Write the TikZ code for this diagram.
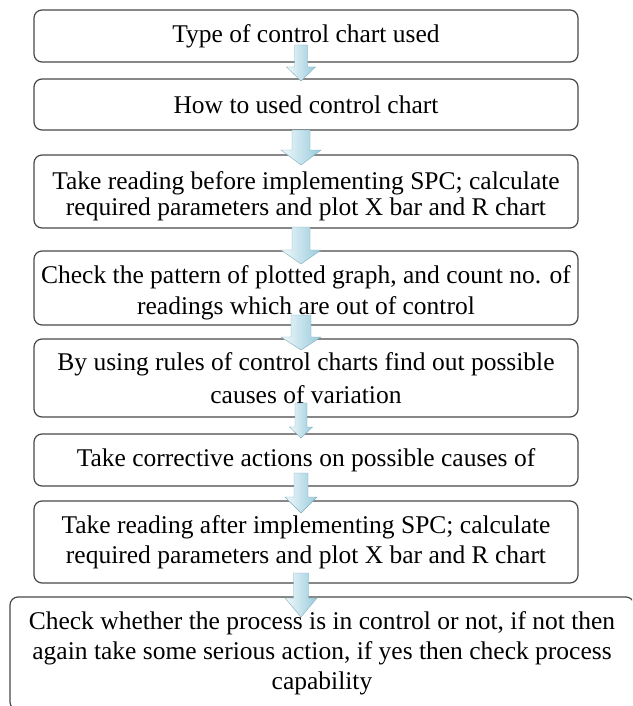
\documentclass[tikz,border=0pt]{standalone}
\usepackage{fontspec}
\setmainfont{Liberation Serif}
\usepackage{xcolor}
\usepackage{tikz}
\usetikzlibrary{calc}
\usetikzlibrary{positioning}

\definecolor{arrowblue}{RGB}{150,203,220}
\definecolor{arrowlight}{RGB}{242,249,252}
\definecolor{boxline}{RGB}{72,72,72}

% block arrow from the bottom of #1 into the top of #2
% #3 overlap above, #4 overlap below, #5 half shaft, #6 half head, #7 head length
\newcommand{\flowstep}[7]{%
	\shade[left color=arrowlight,right color=arrowblue,draw=arrowblue!85!black,line width=0.4pt]
	let \p1=($(#1.south)+(-5,-#3)$), \p2=($(#2.north)+(-5,#4)$) in
	(\x1-#5pt,\y1) -- (\x1+#5pt,\y1) -- (\x1+#5pt,\y2+#7pt) -- (\x1+#6pt,\y2+#7pt)
	-- (\x1,\y2) -- (\x1-#6pt,\y2+#7pt) -- (\x1-#5pt,\y2+#7pt) -- cycle;}

\begin{document}
\begin{tikzpicture}[x=1pt,y=-1pt,
	box/.style={draw=boxline,line width=1.2pt,rounded corners=8pt,fill=white,outer sep=0pt,
		minimum width=544pt,inner sep=2pt,align=center,font=\fontsize{25.5}{30}\selectfont}]
	
	\useasboundingbox (0,0) rectangle (632,706);
	\clip (0,0) rectangle (632,706);
	
	% steps
	\node[box,minimum height=52pt] (type) at (306,36) {Type of control chart used};
	\node[box,minimum height=51pt] (howto) [below=17pt of type] {How to used control chart};
	\node[box,minimum height=73pt,text height=54pt,font=\fontsize{25.5}{26}\selectfont] (before) [below=25pt of howto]
		{Take reading before implementing SPC; calculate\\required parameters and plot X bar and R chart};
	\node[box,minimum height=74pt,text height=58pt,font=\fontsize{25.5}{31}\selectfont] (pattern) [below=23pt of before]
		{Check the pattern of plotted graph, and count no. of\\readings which are out of control};
	\node[box,minimum height=78pt,font=\fontsize{25.5}{33}\selectfont] (rules) [below=14pt of pattern]
		{By using rules of control charts find out possible\\causes of variation};
	\node[box,minimum height=52pt] (action) [below=17pt of rules] {Take corrective actions on possible causes of};
	\node[box,minimum height=82pt] (after) [below=15pt of action]
		{Take reading after implementing SPC; calculate\\required parameters and plot X bar and R chart};
	\node[box,minimum height=113pt,minimum width=624pt,xshift=16pt] (check) [below=14pt of after]
		{Check whether the process is in control or not, if not then\\again take some serious action, if yes then check process\\capability};
	
	% arrows between the steps
	\flowstep{type}{howto}{17}{2}{6.5}{14.5}{14}
	\flowstep{howto}{before}{0}{10}{9}{20}{15}
	\flowstep{before}{pattern}{1}{13}{9}{20}{14}
	\flowstep{pattern}{rules}{10}{11}{10}{20}{13}
	\flowstep{rules}{action}{14}{4}{6}{11.5}{11}
	\flowstep{action}{after}{13}{12}{7}{16}{16}
	\flowstep{after}{check}{10}{20}{7.5}{16}{19}
	
\end{tikzpicture}
\end{document}
